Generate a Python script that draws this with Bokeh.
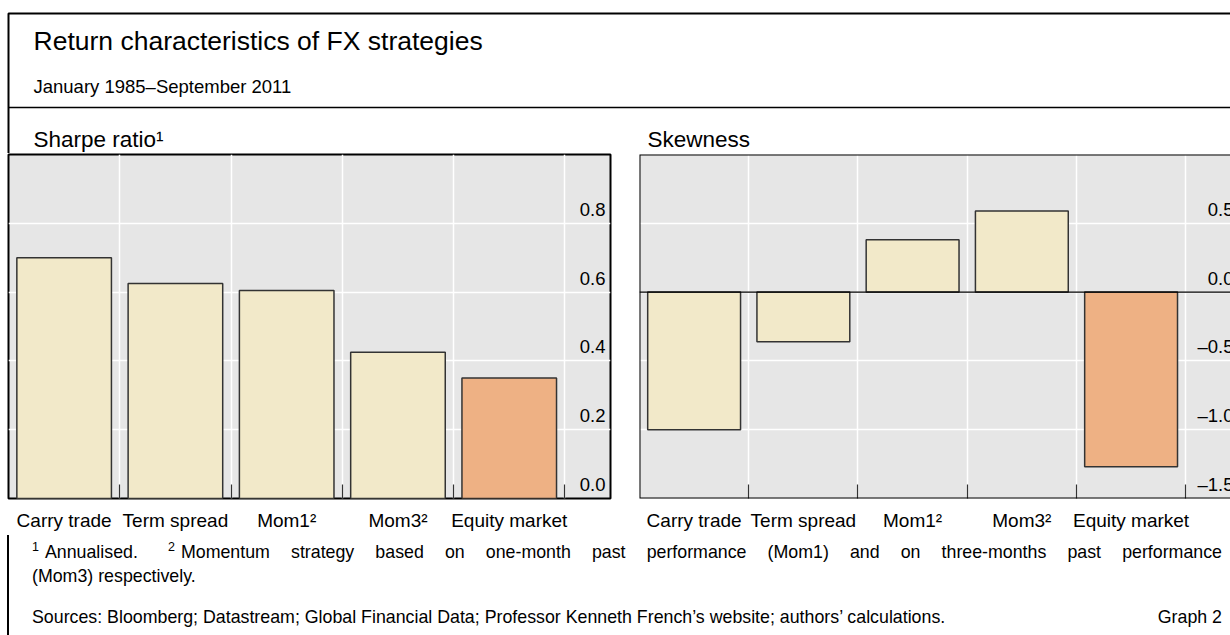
from bokeh.plotting import figure
from bokeh.models import (Range1d, FixedTicker, LinearAxis, Grid, Label, Span,
                          BoxAnnotation, Div, ColumnDataSource)
from bokeh.layouts import column, row
from bokeh.embed import file_html
from bokeh.resources import INLINE
from bokeh.core.properties import value

# ---------------- data ----------------
categories = ["Carry trade", "Term spread", "Mom1\u00b2", "Mom3\u00b2", "Equity market"]
sharpe = [0.70, 0.625, 0.605, 0.425, 0.35]
skewness = [-1.0, -0.36, 0.38, 0.59, -1.27]
bar_colors = ["#f2e9c9", "#f2e9c9", "#f2e9c9", "#f2e9c9", "#eeb184"]
sharpe_ticks = [0.0, 0.2, 0.4, 0.6, 0.8]
sharpe_tick_labels = ["0.0", "0.2", "0.4", "0.6", "0.8"]
skew_ticks = [-1.5, -1.0, -0.5, 0.0, 0.5]
skew_tick_labels = ["\u20131.5", "\u20131.0", "\u20130.5", "0.0", "0.5"]

FONT = "Liberation Sans"
X_START, X_END = -0.5, 4.91


def panel(values, ticks, tick_labels, y_range, width, border_left, border_right,
          label_dx, right_panel):
    p = figure(width=width, height=382,
               x_range=Range1d(X_START, X_END), y_range=Range1d(*y_range),
               x_axis_location=None, y_axis_location=None,
               toolbar_location=None, output_backend="svg",
               min_border=0, min_border_left=border_left,
               min_border_right=border_right, min_border_top=1,
               min_border_bottom=37,
               background_fill_color="#e6e6e6", border_fill_color="white",
               outline_line_color=None if right_panel else "black",
               outline_line_width=2)
    p.grid.visible = False
    idx = list(range(len(categories)))
    boundaries = [i + 0.5 for i in idx]
    p.add_layout(Grid(dimension=0, ticker=FixedTicker(ticks=boundaries),
                      grid_line_color="white", grid_line_width=1.5))
    p.add_layout(Grid(dimension=1, ticker=FixedTicker(ticks=ticks),
                      grid_line_color="white", grid_line_width=1.5))
    ax = LinearAxis(ticker=FixedTicker(ticks=idx, minor_ticks=boundaries),
                    major_label_overrides={i: c for i, c in zip(idx, categories)},
                    major_tick_line_color=None,
                    minor_tick_line_color="#333333", minor_tick_line_width=1.2,
                    minor_tick_in=14, minor_tick_out=0,
                    axis_line_color=None, major_label_standoff=5,
                    major_label_text_font=FONT,
                    major_label_text_font_size="19px",
                    major_label_text_color="black")
    p.add_layout(ax, "below")
    src = ColumnDataSource(dict(x=idx, top=values, color=bar_colors))
    p.vbar(x="x", top="top", bottom=0, width=0.85, fill_color="color",
           line_color="#333333", line_width=1.5, source=src)
    if right_panel:
        p.add_layout(Span(location=0, dimension="width", line_color="black",
                          line_width=1.2))
        # frame border that continues past the right edge of the page
        p.add_layout(BoxAnnotation(left=X_START, right=X_END + 3,
                                   top=y_range[1], bottom=y_range[0],
                                   fill_color=None, fill_alpha=0,
                                   line_color="black", line_alpha=1,
                                   line_width=2))
    lab = ColumnDataSource(dict(x=[X_END] * len(ticks), y=ticks, text=tick_labels))
    p.text(x="x", y="y", text="text", source=lab, text_align="right",
           text_baseline="middle", x_offset=label_dx, y_offset=-14,
           text_font=value(FONT), text_font_size=value("18.5px"),
           text_color="black")
    return p


left = panel(sharpe, sharpe_ticks, sharpe_tick_labels, (0.0, 1.0),
             624, 8, 14, -5, False)
right = panel(skewness, skew_ticks, skew_tick_labels, (-1.5, 1.0),
              606, 15, 0, 3, True)

# ---------------- header ----------------
header = figure(width=1230, height=153, x_range=Range1d(0, 1230),
                y_range=Range1d(153, 0), x_axis_location=None,
                y_axis_location=None, toolbar_location=None,
                output_backend="svg", min_border=0, outline_line_color=None)
header.grid.visible = False
header.add_layout(BoxAnnotation(left=8, right=1400, top=13, bottom=600,
                                fill_color=None, fill_alpha=0,
                                line_color="black", line_alpha=1,
                                line_width=2))
header.add_layout(BoxAnnotation(left=8, right=1400, top=107, bottom=107,
                                fill_color=None, fill_alpha=0,
                                line_color="black", line_alpha=1,
                                line_width=1.5))


def head_label(x, y, text, size):
    header.add_layout(Label(x=x, y=y, text=text, text_font=FONT,
                            text_font_size=size, text_baseline="middle",
                            text_color="black"))


head_label(33, 40, "Return characteristics of FX strategies", "26.5px")
head_label(33, 86, "January 1985\u2013September 2011", "18.5px")
head_label(33, 139, "Sharpe ratio\u00b9", "22.5px")
head_label(647, 139, "Skewness", "22.5px")

# ---------------- footer ----------------
sup = ('<span style="font-size:12.5px;vertical-align:7px;line-height:0;'
       'margin-right:6px">{}</span>')
keep = '<span style="display:inline-block;{}">{}</span>'
footer_html = (
    '<div style="font-family:\'Liberation Sans\';font-size:17.8px;line-height:24px;'
    'color:#000;margin:0 0 0 7px;padding:5px 8px 0 23px;border-left:2px solid black;'
    'height:95px;width:1190px;box-sizing:content-box;">'
    '<div style="width:1190px;text-align:justify;text-align-last:justify;">'
    + keep.format("margin-right:9px;", sup.format("1") + "Annualised.")
    + ' '
    + keep.format("", sup.format("2") + "Momentum")
    + ' strategy based on one-month past performance (Mom1) and on '
      'three-months past performance</div>'
    '<div style="width:1190px;">(Mom3) respectively.</div>'
    '<div style="width:1190px;display:flex;justify-content:space-between;margin-top:17px;">'
    '<span>Sources: Bloomberg; Datastream; Global Financial Data; Professor Kenneth '
    'French\u2019s website; authors\u2019 calculations.</span><span>Graph 2</span></div>'
    '</div>'
)
footer = Div(text=footer_html, width=1230, height=100, margin=(0, 0, 0, 0))

layout = column(header, row(left, right, spacing=0), footer, spacing=0)

open("out.html", "w").write(file_html(layout, INLINE))
